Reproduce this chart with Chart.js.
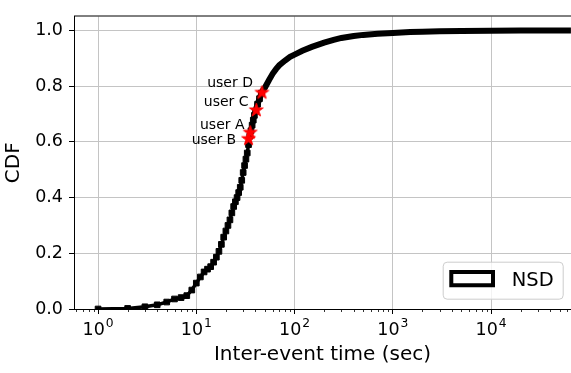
<!DOCTYPE html>
<html>
<head>
<meta charset="utf-8">
<script src="https://cdn.jsdelivr.net/npm/chart.js@4.4.0/dist/chart.umd.min.js"></script>
<style>
  body { margin: 0; background: #fff; }
  canvas { display: block; }
</style>
</head>
<body>
<canvas id="cdfChart" width="571" height="373"></canvas>
<script>
// inter-event times (sec) and their CDF
const interEventTimes = [1, 2, 3, 4, 5, 6, 7, 8, 9, 10, 11, 12, 13, 14, 15, 16, 17, 18, 19, 20,
    21, 22, 23, 24, 25, 26, 27, 28, 29, 30, 31, 32, 33, 34, 35, 36, 37, 38, 39, 40,
    42, 44, 46, 48, 50, 55, 60, 65, 70, 80, 90, 100, 120, 150, 200, 250, 300, 400, 500,
    700, 1000, 1500, 2000, 3000, 5000, 10000, 20000, 65000];
const cdfValues = [0, 0.002, 0.008, 0.015, 0.025, 0.036, 0.041, 0.048, 0.068, 0.093,
    0.115, 0.133, 0.143, 0.152, 0.168, 0.186, 0.207, 0.232, 0.258, 0.280,
    0.300, 0.320, 0.345, 0.368, 0.385, 0.400, 0.418, 0.437, 0.462, 0.490,
    0.515, 0.538, 0.560, 0.590, 0.620, 0.640, 0.660, 0.678, 0.695, 0.710,
    0.735, 0.755, 0.775, 0.787, 0.795, 0.822, 0.845, 0.862, 0.875, 0.892, 0.905, 0.913,
    0.927, 0.941, 0.956, 0.966, 0.973, 0.980, 0.984, 0.988, 0.991, 0.994, 0.995,
    0.997, 0.998, 0.999, 1.0, 1.0];
const seriesLabel = 'NSD';

const userNames = ['user A', 'user B', 'user C', 'user D'];
const userTimes = [35.4, 34.0, 40.8, 46.6];
const userCdf = [0.636, 0.613, 0.716, 0.779];

const yTickValues = [0, 0.2, 0.4, 0.6, 0.8, 1.0];
const xDecades = [0, 1, 2, 3, 4];
const xMin = 0.569, xMax = 65130;
const yMin = 0, yMax = 1.05;

const FONT = '"DejaVu Sans", sans-serif';

// label offsets (px) from each star: [dx of right edge, dy of baseline]
const labelOffsets = {
    'user A': [-5.7, -3.3],
    'user B': [-12.3, 5.6],
    'user C': [-7.7, -3.4],
    'user D': [-9, -5]
};

function isDecade(v) {
    const l = Math.log10(v);
    return Math.abs(l - Math.round(l)) < 1e-9;
}

// minor + major tick values on the log axis
const xTickValues = [];
for (let e = -1; e <= 4; e++) {
    for (let m = 1; m <= 9; m++) {
        const v = m * Math.pow(10, e);
        if (v >= xMin && v <= xMax) xTickValues.push(v);
    }
}

function makeStar(r, color) {
    const c = document.createElement('canvas');
    const s = Math.ceil(r * 2) + 2;
    c.width = c.height = s;
    const g = c.getContext('2d');
    g.translate(s / 2, s / 2 + r * 0.1);
    g.beginPath();
    for (let i = 0; i < 10; i++) {
        const rad = i % 2 ? r * 0.382 : r;
        const a = -Math.PI / 2 + i * Math.PI / 5;
        g.lineTo(rad * Math.cos(a), rad * Math.sin(a));
    }
    g.closePath();
    g.fillStyle = color;
    g.fill();
    g.strokeStyle = color;
    g.lineWidth = 1;
    g.stroke();
    return c;
}
const starImg = makeStar(7.2, '#ff0000');

const framePlugin = {
    id: 'frame',
    afterDraw(chart) {
        const { ctx, chartArea: a, scales: { x } } = chart;
        ctx.save();
        // top spine
        ctx.strokeStyle = '#000';
        ctx.lineWidth = 1;
        ctx.beginPath();
        ctx.moveTo(a.left, a.top - 0.5);
        ctx.lineTo(a.right, a.top - 0.5);
        ctx.stroke();

        // minor ticks
        ctx.lineWidth = 0.8;
        x.ticks.forEach(t => {
            if (isDecade(t.value)) return;
            const px = Math.round(x.getPixelForValue(t.value)) + 0.5;
            ctx.beginPath();
            ctx.moveTo(px, a.bottom);
            ctx.lineTo(px, a.bottom + 3);
            ctx.stroke();
        });

        // x tick labels 10^n
        ctx.fillStyle = '#000';
        ctx.textBaseline = 'alphabetic';
        ctx.textAlign = 'left';
        xDecades.forEach(e => {
            const px = x.getPixelForValue(Math.pow(10, e));
            ctx.font = '17.5px ' + FONT;
            const wb = ctx.measureText('10').width;
            ctx.font = '12.3px ' + FONT;
            const we = ctx.measureText(String(e)).width;
            const left = px - (wb + 1 + we) / 2;
            ctx.font = '17.5px ' + FONT;
            ctx.fillText('10', left, a.bottom + 26);
            ctx.font = '12.3px ' + FONT;
            ctx.fillText(String(e), left + wb + 1, a.bottom + 18.3);
        });

        // user annotations
        ctx.font = '14px ' + FONT;
        ctx.textAlign = 'right';
        const y = chart.scales.y;
        userNames.forEach((name, i) => {
            const px = x.getPixelForValue(userTimes[i]);
            const py = y.getPixelForValue(userCdf[i]);
            const off = labelOffsets[name];
            ctx.fillText(name, px + off[0], py + off[1]);
        });

        // legend
        const ds = chart.data.datasets[1];
        const fx = a.right - 128.3, fy = a.bottom - 47.3;
        ctx.fillStyle = 'rgba(255,255,255,0.8)';
        ctx.strokeStyle = '#cccccc';
        ctx.lineWidth = 1;
        ctx.beginPath();
        ctx.roundRect(fx + 0.5, fy + 0.5, 120, 37, 4);
        ctx.fill();
        ctx.stroke();
        ctx.fillStyle = '#fff';
        ctx.strokeStyle = '#000';
        ctx.lineWidth = 4;
        ctx.beginPath();
        ctx.rect(fx + 8.6, fy + 10.3, 41.7, 13.3);
        ctx.fill();
        ctx.stroke();
        ctx.fillStyle = '#000';
        ctx.textAlign = 'left';
        ctx.font = '19.5px ' + FONT;
        ctx.fillText(ds.label, fx + 69, fy + 24.3);
        ctx.restore();
    }
};

const cdfPoints = interEventTimes.map((t, i) => ({ x: t, y: cdfValues[i] }));
const userPoints = userTimes.map((t, i) => ({ x: t, y: userCdf[i] }));

new Chart(document.getElementById('cdfChart'), {
    type: 'line',
    data: {
        datasets: [
            {
                label: 'users',
                data: userPoints,
                showLine: false,
                pointStyle: starImg,
                pointRadius: 7,
                order: 0,
                clip: false
            },
            {
                label: seriesLabel,
                data: cdfPoints,
                borderColor: '#000',
                backgroundColor: '#000',
                borderWidth: 3.5,
                segment: {
                    borderWidth: c => c.p0.parsed.x >= 40 ? 6 : 3.5
                },
                pointStyle: 'rect',
                pointRadius: c => (c.parsed && c.parsed.x <= 46) ? 4 : 0,
                pointBorderWidth: 1,
                pointBorderColor: '#000',
                pointBackgroundColor: '#000',
                tension: 0,
                order: 1,
                clip: 0
            }
        ]
    },
    options: {
        responsive: false,
        devicePixelRatio: 1,
        animation: false,
        layout: { autoPadding: false, padding: { top: 4, right: 0, left: 0, bottom: 0 } },
        plugins: {
            legend: { display: false },
            tooltip: { enabled: false }
        },
        scales: {
            x: {
                type: 'logarithmic',
                min: xMin,
                max: xMax,
                afterBuildTicks: s => { s.ticks = xTickValues.map(v => ({ value: v })); },
                afterFit: s => { s.height = 64; },
                ticks: { display: false, autoSkip: false },
                grid: {
                    color: c => (c.tick && isDecade(c.tick.value)) ? '#c4c4c4' : 'rgba(0,0,0,0)',
                    tickColor: c => (c.tick && isDecade(c.tick.value)) ? '#000' : 'rgba(0,0,0,0)',
                    lineWidth: 1,
                    tickLength: 5
                },
                border: { color: '#000', width: 1 },
                title: {
                    display: true,
                    text: 'Inter-event time (sec)',
                    color: '#000',
                    font: { family: FONT, size: 20 },
                    padding: { top: 0, bottom: 6.5 }
                }
            },
            y: {
                min: yMin,
                max: yMax,
                afterBuildTicks: s => { s.ticks = yTickValues.map(v => ({ value: v })); },
                afterFit: s => { s.width = 74; },
                ticks: {
                    color: '#000',
                    font: { family: FONT, size: 17.5 },
                    padding: 6,
                    callback: v => Number(v).toFixed(1)
                },
                grid: {
                    color: '#c4c4c4',
                    tickColor: '#000',
                    lineWidth: 1,
                    tickLength: 5
                },
                border: { color: '#000', width: 1 },
                title: {
                    display: true,
                    text: 'CDF',
                    color: '#000',
                    font: { family: FONT, size: 20 },
                    padding: { top: 2, bottom: 0 }
                }
            }
        }
    },
    plugins: [framePlugin]
});
</script>
</body>
</html>
